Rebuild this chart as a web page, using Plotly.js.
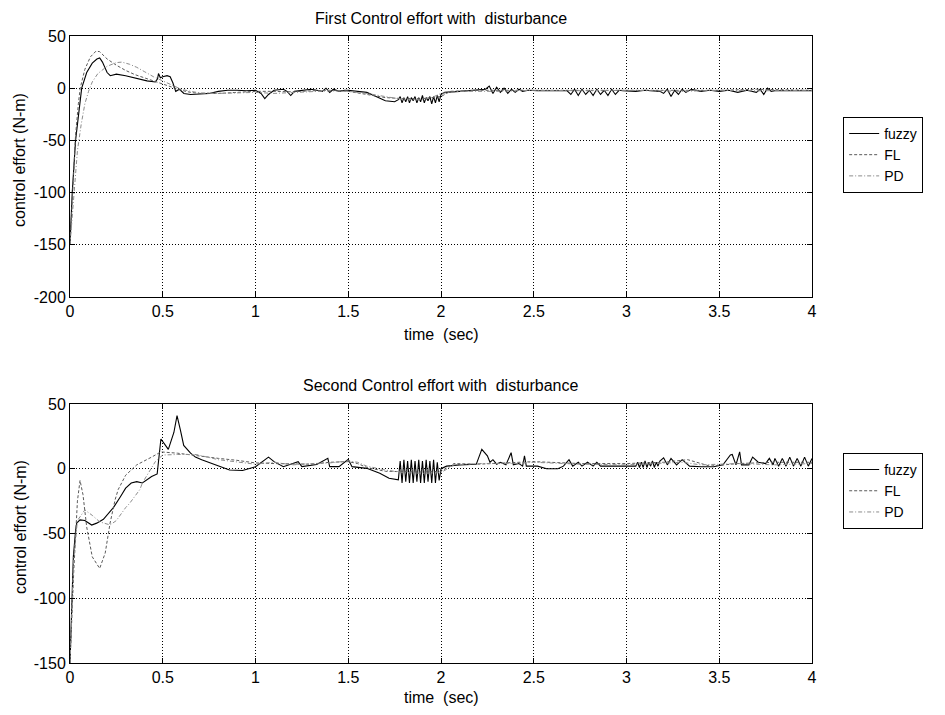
<!DOCTYPE html>
<html>
<head>
<meta charset="utf-8">
<script src="https://cdn.plot.ly/plotly-3.0.1.min.js"></script>
<style>html,body{margin:0;padding:0;background:#fff;}#chart{width:945px;height:715px;}</style>
</head>
<body>
<div id="chart"></div>
<script>
// ---------- First control effort (top) ----------
const t1Fuzzy = [0,0.012,0.03,0.045,0.063,0.09,0.12,0.145,0.16,0.175,0.2,0.217,0.25,0.3,0.36,0.415,0.46,0.472,0.477,0.487,0.5,0.523,0.54,0.555,0.57,0.59,0.614,0.65,0.7,0.75,0.8,0.85,0.9,0.95,1.0,1.03,1.05,1.07,1.1,1.15,1.17,1.19,1.21,1.25,1.3,1.33,1.36,1.38,1.40,1.42,1.45,1.48,1.5,1.55,1.6,1.65,1.7,1.75,1.77,
  1.78,1.79,1.80,1.81,1.82,1.83,1.84,1.85,1.86,1.87,1.88,1.89,1.90,1.91,1.92,1.93,1.94,1.95,1.96,1.97,1.98,1.99,
  2.0,2.02,2.1,2.2,2.24,2.26,2.28,2.3,2.32,2.34,2.36,2.38,2.40,2.42,2.44,2.47,2.52,2.6,2.68,
  2.70,2.72,2.74,2.76,2.78,2.80,2.82,2.84,2.86,2.88,2.90,2.92,2.94,2.96,2.98,
  3.05,3.1,3.18,3.2,3.22,3.24,3.26,3.28,3.3,3.32,3.35,3.4,3.45,3.5,3.55,3.6,3.65,3.7,3.72,3.74,3.76,3.78,3.8,4.0];
const v1Fuzzy = [-150,-100,-50,-25,0,15,24,28,29,25,15,12,13.5,12,9,7,6,9,14,10,11,12,11,5,-3,-1,-5,-6,-5.5,-5,-3,-2,-2,-2.5,-2,-5,-10,-6,-2,-1,-3,-7,-3,-2,-1,-2,-3,0,-4,-1,-3,-2,-2,-3,-4,-8,-12,-13,-11,
  -8,-14,-9,-13,-8,-14,-9,-12,-8,-14,-9,-13,-7,-14,-9,-12,-8,-15,-8,-14,-7,-13,
  -6,-4,-3,-2,-1,2,-5,1,-4,0,-5,-1,-4,-1,-3,-2,-2.5,-2.5,-2.5,
  -6,-1,-7,-1,-6,-2,-7,-1,-6,-2,-7,-1,-6,-2,-2.5,
  -3,-2,-3,-5,-1,-8,-2,-6,-1,-4,-1,-3,-2,-3,-2,-4,-2,-4,-1,-6,0,-3,-2.5,-2.5];

const t1FL = [0,0.015,0.03,0.045,0.055,0.08,0.11,0.14,0.16,0.2,0.25,0.3,0.35,0.4,0.45,0.5,0.55,0.6,0.65,0.7,0.8,0.9,1.0,1.1,1.2,1.3,1.4,1.5,1.6,1.7,1.8,1.9,2.0,2.05,2.2,2.5,2.8,3.0,3.2,3.5,3.7,4.0];
const v1FL = [-150,-90,-45,-15,0,18,30,35.5,35,28,22,17,13,10,7,4,0.5,-2,-4,-5,-5,-4,-3,-3,-3.5,-2.5,-2,-3,-6,-9,-10,-10,-8,-3,-2,-2,-2,-1.5,-2,-2,-1,-2];

const t1PD = [0,0.02,0.04,0.06,0.08,0.1,0.12,0.15,0.2,0.25,0.28,0.32,0.36,0.4,0.45,0.5,0.55,0.6,0.65,0.7,0.8,0.9,1.0,1.1,1.2,1.3,1.4,1.5,1.6,1.7,1.8,1.9,1.95,2.0,2.1,2.3,2.5,2.8,3.0,3.3,3.5,3.7,4.0];
const v1PD = [-150,-100,-60,-35,-15,-3,6,14,21,24.5,25,23,20,16,11,7,3,-1,-3,-4.5,-5,-4.5,-4,-5,-4,-3,-2.5,-3,-5,-8,-11,-11,-9,-5,-3,-3,-2,-2.5,-2,-3,-2,-2.5,-2];

// ---------- Second control effort (bottom) ----------
const t2Fuzzy = [0,0.01,0.018,0.03,0.036,0.054,0.08,0.117,0.144,0.18,0.234,0.27,0.3,0.33,0.36,0.39,0.44,0.47,0.48,0.49,0.51,0.53,0.56,0.577,0.595,0.613,0.65,0.676,0.71,0.8,0.86,0.93,1.0,1.07,1.1,1.15,1.23,1.25,1.33,1.39,1.4,1.45,1.5,1.52,1.6,1.67,1.72,1.77,
  1.78,1.79,1.80,1.81,1.82,1.83,1.84,1.85,1.86,1.87,1.88,1.89,1.90,1.91,1.92,1.93,1.94,1.95,1.96,1.97,1.98,1.99,
  2.0,2.03,2.1,2.19,2.22,2.25,2.264,2.28,2.3,2.32,2.35,2.378,2.39,2.42,2.44,2.45,2.46,2.52,2.57,2.63,2.66,2.69,2.71,2.74,2.76,2.79,2.82,2.84,2.86,3.05,
  3.06,3.07,3.08,3.09,3.10,3.11,3.12,3.13,3.14,3.15,3.16,3.17,3.18,
  3.2,3.22,3.24,3.27,3.3,3.34,3.4,3.47,3.52,3.56,3.57,3.59,3.61,3.62,3.66,3.68,3.71,3.75,3.77,3.79,
  3.80,3.82,3.84,3.86,3.88,3.90,3.92,3.94,3.96,3.98,4.0];
const v2Fuzzy = [-150,-93,-68,-48,-42,-39.5,-40,-43.5,-42,-39,-30,-22,-15,-11,-10,-11,-6,-4,12,23,19,15,28,41,30,18,12,9,7,2,-1,-1.3,1.6,9,5.5,1.6,5.5,1.6,3.3,8,1.6,1.6,7.3,1.6,0.3,-3.5,-7.3,-8.6,
  6,-11,7,-10,6,-11,7,-11,6,-10,7,-11,6,-11,7,-10,6,-11,7,-11,5,-9,
  0,2,3,3.4,15,10,5,7,3.5,5,3,12.4,3,4,2,10,2,2,0,0,2,7,2,5,2,5,2,5,2,2,
  5,1,5,1,6,1,5,2,6,1,5,2,6,
  8.4,3,8,3,7,2,1.5,1.5,3,10.6,11,3,13,3,3,9,5,4,8,3,
  8,2,8,2,9,2,8,2,9,2,8];

const t2FL = [0,0.02,0.04,0.054,0.07,0.09,0.12,0.16,0.19,0.216,0.243,0.26,0.3,0.36,0.44,0.49,0.58,0.68,0.8,0.9,1.0,1.1,1.2,1.3,1.4,1.5,1.55,1.6,1.7,1.8,1.9,2.0,2.07,2.2,2.4,2.5,2.75,3.0,3.2,3.33,3.45,3.6,3.8,4.0];
const v2FL = [-150,-80,-25,-9,-20,-45,-68,-77,-65,-42,-24,-16,-5,3,9,13,12,10,8,6.5,4.5,4,3.5,3.5,5,5.5,4,1,-2,-2.5,-2.5,-2,4,3.5,5,5.5,4,4,5,7,2,4,5,5];

const t2PD = [0,0.02,0.04,0.08,0.12,0.16,0.216,0.25,0.3,0.32,0.377,0.39,0.46,0.5,0.58,0.68,0.8,0.9,1.0,1.1,1.2,1.3,1.4,1.5,1.55,1.6,1.7,1.8,1.9,2.0,2.07,2.2,2.4,2.5,2.75,3.0,3.2,3.3,3.4,3.6,3.8,4.0];
const v2PD = [-150,-70,-40,-31.8,-36,-41,-43.4,-40,-30,-27,-16,-11,5.5,10.6,11,11,7,5,3.5,5,3,4,4.5,6,5,2,-1,-3,-3.5,-3,3,4,4,5,3.5,3,4,5,3,4,3,4];

const seriesNames = ['fuzzy', 'FL', 'PD'];
const xTickVals = [0, 0.5, 1, 1.5, 2, 2.5, 3, 3.5, 4];
const xTickText = ['0', '0.5', '1', '1.5', '2', '2.5', '3', '3.5', '4'];
const y1TickVals = [-200, -150, -100, -50, 0, 50];
const y1TickText = ['-200', '-150', '-100', '-50', '0', '50'];
const y2TickVals = [-150, -100, -50, 0, 50];
const y2TickText = ['-150', '-100', '-50', '0', '50'];

const styles = [
  {color: '#000000', width: 1.1, dash: 'solid'},
  {color: '#5a5a5a', width: 1, dash: '3px,2px'},
  {color: '#8c8c8c', width: 1, dash: '4px,2px,1px,2px'}
];

const FONT = '"Liberation Sans", Arial, sans-serif';
const FS = 16;
const traces = [];
const topData = [[t1Fuzzy, v1Fuzzy], [t1FL, v1FL], [t1PD, v1PD]];
const botData = [[t2Fuzzy, v2Fuzzy], [t2FL, v2FL], [t2PD, v2PD]];
topData.forEach((d, i) => traces.push({x: d[0], y: d[1], name: seriesNames[i], type: 'scatter', mode: 'lines', line: styles[i], xaxis: 'x', yaxis: 'y', legend: 'legend'}));
botData.forEach((d, i) => traces.push({x: d[0], y: d[1], name: seriesNames[i], type: 'scatter', mode: 'lines', line: styles[i], xaxis: 'x2', yaxis: 'y2', legend: 'legend2'}));

const common = {
  ticks: 'inside', ticklen: 5, tickcolor: '#000', showline: true, linecolor: '#000', linewidth: 1, mirror: 'ticks',
  showgrid: true, gridcolor: '#000', griddash: '1px,2px', gridwidth: 1, zeroline: false,
  tickfont: {family: FONT, size: FS, color: '#000'}
};
function xax(anchor) {
  return Object.assign({anchor: anchor, domain: [0, 1], range: [0, 4], tickmode: 'array', tickvals: xTickVals, ticktext: xTickText}, common);
}
function yax(anchor, domain, range, tv, tt) {
  return Object.assign({anchor: anchor, domain: domain, range: range, tickmode: 'array', tickvals: tv, ticktext: tt}, common);
}
function leg(y) {
  return {x: 1.042, xanchor: 'left', y: y, yanchor: 'top', bgcolor: '#fff', bordercolor: '#000', borderwidth: 1,
    font: {family: FONT, size: 14, color: '#000'}, tracegroupgap: 0, itemwidth: 30, entrywidth: 110};
}

const layout = {
  width: 945, height: 715,
  margin: {l: 70, r: 133, t: 36, b: 52},
  paper_bgcolor: '#fff', plot_bgcolor: '#fff',
  showlegend: true,
  xaxis: xax('y'),
  yaxis: yax('x', [0.5837, 1], [-200, 50], y1TickVals, y1TickText),
  xaxis2: xax('y2'),
  yaxis2: yax('x2', [0, 0.4131], [-150, 50], y2TickVals, y2TickText),
  legend: leg(0.871),
  legend2: leg(0.335),
  annotations: [
    {text: 'First Control effort with\u00a0 disturbance', xref: 'paper', yref: 'paper', x: 0.5, y: (663 - 18) / 627, xanchor: 'center', yanchor: 'middle', showarrow: false, font: {family: FONT, size: FS, color: '#000'}},
    {text: 'Second Control effort with\u00a0 disturbance', xref: 'paper', yref: 'paper', x: 0.5, y: (663 - 385) / 627, xanchor: 'center', yanchor: 'middle', showarrow: false, font: {family: FONT, size: FS, color: '#000'}},
    {text: 'time\u00a0 (sec)', xref: 'paper', yref: 'paper', x: 0.5, y: (663 - 334) / 627, xanchor: 'center', yanchor: 'middle', showarrow: false, font: {family: FONT, size: FS, color: '#000'}},
    {text: 'time\u00a0 (sec)', xref: 'paper', yref: 'paper', x: 0.5, y: (663 - 697) / 627, xanchor: 'center', yanchor: 'middle', showarrow: false, font: {family: FONT, size: FS, color: '#000'}},
    {text: 'control effort (N-m)', xref: 'paper', yref: 'paper', x: (20 - 70) / 742, y: (663 - 160) / 627, xanchor: 'center', yanchor: 'middle', textangle: -90, showarrow: false, font: {family: FONT, size: FS, color: '#000'}},
    {text: 'control effort (N-m)', xref: 'paper', yref: 'paper', x: (20 - 70) / 742, y: (663 - 527) / 627, xanchor: 'center', yanchor: 'middle', textangle: -90, showarrow: false, font: {family: FONT, size: FS, color: '#000'}}
  ]
};

Plotly.newPlot('chart', traces, layout, {displayModeBar: false, staticPlot: true});
</script>
</body>
</html>
